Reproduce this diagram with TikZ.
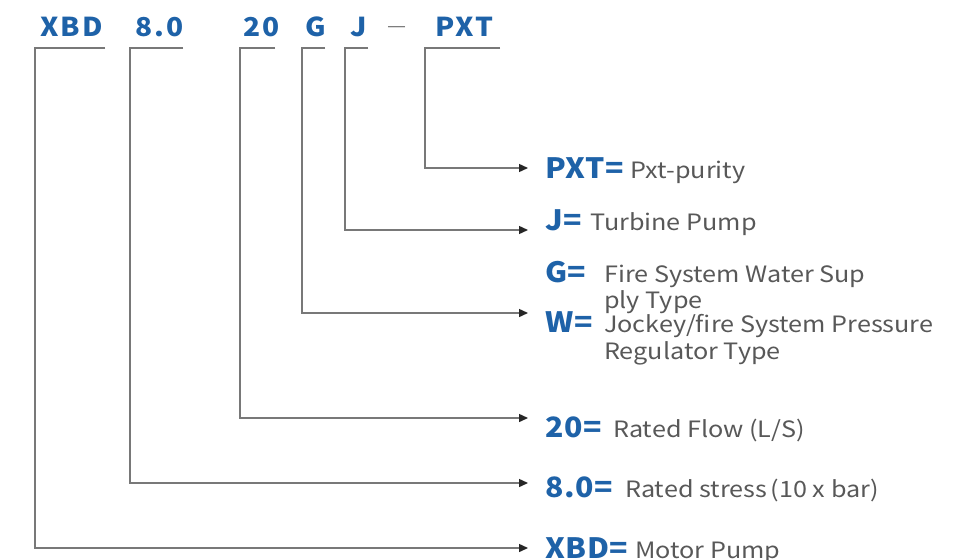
\documentclass[tikz,border=0pt]{standalone}
\usepackage{fontspec}
\usetikzlibrary{arrows.meta}
\setmainfont[FakeStretch=1.12]{Noto Sans CJK SC}
\newfontfamily\hdrfont[LetterSpace=8.0,FakeStretch=1.08]{Noto Sans CJK SC}
\newfontfamily\codefont[LetterSpace=2.0,FakeStretch=1.08]{Noto Sans CJK SC}
\definecolor{codeblue}{RGB}{30,98,168}
\definecolor{txtgrey}{RGB}{88,88,88}
\definecolor{linegrey}{RGB}{120,120,120}
\begin{document}
\begin{tikzpicture}[x=1pt,y=-1pt,
  hdr/.style={anchor=base west,inner sep=0pt,text=codeblue,font=\hdrfont\bfseries\fontsize{26}{28}\selectfont},
  code/.style={anchor=base west,inner sep=0pt,text=codeblue,font=\codefont\bfseries\fontsize{28}{32}\selectfont},
  desc/.style={anchor=base west,inner sep=0pt,text=txtgrey,font=\fontsize{22.5}{26}\selectfont},
  conn/.style={draw=linegrey,line width=1.4pt},
  arr/.style={conn,-{Triangle[length=9pt,width=8pt,color=black!85]}}]
\useasboundingbox (0,0) rectangle (954,560);
\fill[white] (0,0) rectangle (954,560);
% header
\node[hdr] (hX) at (40,36) {XBD};
\node[hdr] (h8) at (135,36) {8.0};
\node[hdr] (h20) at (243,36) {20};
\node[hdr] (hG) at (305,36) {G};
\node[hdr] (hJ) at (350,36) {J};
\node[anchor=base west,inner sep=0pt,text=black!55,font=\fontsize{19}{20}\selectfont] (hd) at (387,32) {—};
\node[hdr] (hP) at (435,36) {PXT};
% bracket start points
\coordinate (bX) at (105,48);
\coordinate (b8) at (183,48);
\coordinate (b20) at (275,48);
\coordinate (bG) at (325,48);
\coordinate (bJ) at (368,48);
\coordinate (bP) at (500,48);
% arrow tips
\coordinate (tX) at (528,548);
\coordinate (t8) at (528,483);
\coordinate (t20) at (528,418);
\coordinate (tG) at (528,313);
\coordinate (tJ) at (528,230);
\coordinate (tP) at (528,168);
% connectors
\draw[arr] (bX) -- (35,48) |- (tX);
\draw[arr] (b8) -- (130,48) |- (t8);
\draw[arr] (b20) -- (240,48) |- (t20);
\draw[arr] (bG) -- (302,48) |- (tG);
\draw[arr] (bJ) -- (345,48) |- (tJ);
\draw[arr] (bP) -- (425,48) |- (tP);
% labels
\node[code] (lP) at (545,178) {PXT=};
\node[desc] (dP) at (630,178) {Pxt-purity};
\node[code] (lJ) at (545,230) {J=};
\node[desc] (dJ) at (590,230) {Turbine Pump};
\node[code] (lG) at (545,282) {G=};
\node[desc] (dG1) at (604,282) {Fire System Water Sup};
\node[desc] (dG2) at (604,308) {ply Type};
\node[code] (lW) at (545,332) {W=};
\node[desc] (dW1) at (604,332) {Jockey/fire System Pressure};
\node[desc] (dW2) at (604,359) {Regulator Type};
\node[code] (l20) at (545,437) {20=};
\node[desc] (d20) at (613,437) {Rated Flow (L/S)};
\node[code] (l8) at (545,497) {8.0=};
\node[desc] (d8) at (625,497) {Rated stress\,(10 x bar)};
\node[code] (lX) at (545,558) {XBD=};
\node[desc] (dX) at (635,558) {Motor Pump};
\end{tikzpicture}
\end{document}
